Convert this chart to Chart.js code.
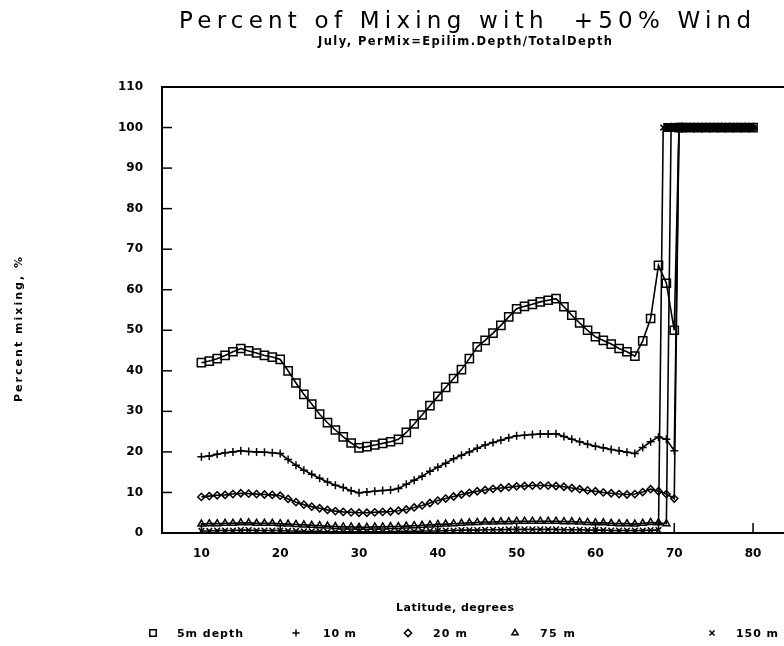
<!DOCTYPE html>
<html>
<head>
<meta charset="utf-8">
<title>Percent of Mixing with +50% Wind</title>
<script src="https://cdn.jsdelivr.net/npm/chart.js@4.4.1/dist/chart.umd.min.js"></script>
<style>
  body { margin: 0; background: #fff; }
  #wrap { width: 784px; height: 646px; position: relative; }
</style>
</head>
<body>
<div id="wrap"><canvas id="mixChart"></canvas></div>
<script>
// latitude of each lake run, degrees
const lats = [10, 11, 12, 13, 14, 15, 16, 17, 18, 19, 20, 21, 22, 23, 24, 25, 26, 27, 28, 29, 30,
    31, 32, 33, 34, 35, 36, 37, 38, 39, 40, 41, 42, 43, 44, 45, 46, 47, 48, 49, 50,
    51, 52, 53, 54, 55, 56, 57, 58, 59, 60, 61, 62, 63, 64, 65, 66, 67, 68, 69, 70];

// percent mixing for each lake depth (before the lake turns fully mixed)
const depth5 = [42.0, 42.4, 43.0, 43.8, 44.7, 45.5, 44.9, 44.4, 43.8, 43.4, 42.8,
    40.0, 37.0, 34.2, 31.8, 29.3, 27.2, 25.4, 23.7, 22.2, 21.0,
    21.3, 21.7, 22.1, 22.5, 23.1, 24.8, 26.9, 29.1, 31.4, 33.7,
    35.9, 38.1, 40.3, 43.0, 45.9, 47.5, 49.3, 51.2, 53.3, 55.3,
    55.9, 56.4, 57.0, 57.4, 57.8, 55.8, 53.7, 51.8, 50.0, 48.4,
    47.5, 46.6, 45.5, 44.7, 43.6, 47.4, 52.9, 66.0, 61.6, 50.0];
const depth10 = [18.8, 19.0, 19.4, 19.8, 20.0, 20.3, 20.1, 20.0, 19.9, 19.8, 19.6,
    18.1, 16.7, 15.5, 14.5, 13.5, 12.6, 11.8, 11.2, 10.4, 9.9,
    10.1, 10.3, 10.5, 10.6, 11.0, 12.0, 13.0, 14.0, 15.2, 16.2,
    17.2, 18.3, 19.2, 20.0, 20.9, 21.7, 22.3, 22.9, 23.5, 24.0,
    24.1, 24.3, 24.4, 24.4, 24.5, 23.8, 23.1, 22.5, 21.9, 21.4,
    21.0, 20.6, 20.3, 19.9, 19.6, 21.1, 22.5, 23.7, 23.1, 20.3];
const depth20 = [8.9, 9.1, 9.3, 9.4, 9.6, 9.8, 9.7, 9.6, 9.5, 9.4, 9.2,
    8.4, 7.6, 7.0, 6.5, 6.1, 5.7, 5.4, 5.2, 5.1, 5.0,
    5.0, 5.1, 5.2, 5.3, 5.5, 5.8, 6.3, 6.8, 7.4, 8.0,
    8.5, 9.0, 9.5, 9.9, 10.3, 10.6, 10.9, 11.1, 11.3, 11.5,
    11.6, 11.7, 11.7, 11.7, 11.6, 11.4, 11.1, 10.8, 10.5, 10.3,
    10.0, 9.8, 9.6, 9.5, 9.6, 10.1, 10.8, 10.3, 9.6, 8.5];
const depth75 = [2.2, 2.3, 2.3, 2.4, 2.4, 2.5, 2.5, 2.4, 2.4, 2.4, 2.3,
    2.2, 2.1, 2.0, 1.9, 1.8, 1.7, 1.6, 1.5, 1.5, 1.4,
    1.4, 1.5, 1.5, 1.6, 1.6, 1.7, 1.8, 1.9, 2.0, 2.1,
    2.2, 2.3, 2.4, 2.5, 2.6, 2.7, 2.7, 2.8, 2.8, 2.9,
    2.9, 2.9, 2.9, 2.9, 2.9, 2.8, 2.8, 2.7, 2.6, 2.5,
    2.5, 2.4, 2.3, 2.3, 2.2, 2.4, 2.6, 2.5, 2.3];
const depth150 = [0.5, 0.5, 0.6, 0.6, 0.6, 0.7, 0.7, 0.6, 0.6, 0.6, 0.6,
    0.5, 0.5, 0.4, 0.4, 0.4, 0.3, 0.3, 0.3, 0.3, 0.3,
    0.3, 0.3, 0.3, 0.3, 0.4, 0.4, 0.4, 0.5, 0.5, 0.5,
    0.6, 0.6, 0.7, 0.7, 0.7, 0.8, 0.8, 0.8, 0.9, 0.9,
    0.9, 0.9, 0.9, 0.9, 0.9, 0.8, 0.8, 0.8, 0.7, 0.7,
    0.7, 0.6, 0.6, 0.6, 0.6, 0.6, 0.7, 0.7];

// latitude where each depth jumps to full mixing, then the fully mixed runs
const jumpLats = [70.6, 70.6, 70.6, 69.6, 68.6];
const fullLats = [71, 72, 73, 74, 75, 76, 77, 78, 79, 80];
const fullMix = 100;

const seriesNames = ["5m depth", "10 m", "20 m", "75 m", "150 m"];
const seriesValues = [depth5, depth10, depth20, depth75, depth150];
const markers = ["rect", "cross", "rectRot", "triangle", "crossRot"];
const markerSizes = [5.8, 4, 3.6, 4, 4];

const xTicks = [10, 20, 30, 40, 50, 60, 70, 80];
const yTicks = [0, 10, 20, 30, 40, 50, 60, 70, 80, 90, 100, 110];

function buildPoints(values, jumpLat) {
    const pts = values.map((v, i) => ({ x: lats[i], y: v }));
    pts.push({ x: jumpLat, y: fullMix });
    fullLats.forEach(x => pts.push({ x: x, y: fullMix }));
    return pts;
}

const datasets = seriesNames.map((name, i) => ({
    label: name,
    data: buildPoints(seriesValues[i], jumpLats[i]),
    borderColor: "#000",
    borderWidth: 1.6,
    pointStyle: markers[i],
    pointRadius: markerSizes[i],
    pointBorderColor: "#000",
    pointBorderWidth: 1.5,
    pointBackgroundColor: "rgba(0,0,0,0)",
    tension: 0,
    segment: {
        // the fully mixed stretch is drawn as a heavy bar
        borderWidth: ctx => (ctx.p0.parsed.y >= fullMix && ctx.p1.parsed.y >= fullMix) ? 9 : 1.6
    }
}));

function spacedText(ctx, text, x0, x1, y) {
    ctx.letterSpacing = "0px";
    const w = ctx.measureText(text).width;
    const gap = (x1 - x0 - w) / (text.length - 1);
    ctx.letterSpacing = gap + "px";
    ctx.textAlign = "left";
    ctx.fillText(text, x0, y);
    ctx.letterSpacing = "0px";
}

// titles, inner tick marks, frame top and the legend row
const decorations = {
    id: "decorations",
    afterDraw(chart) {
        const ctx = chart.ctx;
        const area = chart.chartArea;
        const xs = chart.scales.x;
        const ys = chart.scales.y;
        const w = chart.width;
        ctx.save();
        ctx.strokeStyle = "#000";
        ctx.fillStyle = "#000";

        // frame top and the x axis run on to the page edge
        ctx.lineWidth = 2;
        ctx.beginPath();
        ctx.moveTo(area.left - 1, area.top);
        ctx.lineTo(w, area.top);
        ctx.moveTo(area.right - 1, area.bottom);
        ctx.lineTo(w, area.bottom);
        ctx.stroke();

        ctx.lineWidth = 1.5;
        yTicks.slice(1).forEach(v => {
            const y = ys.getPixelForValue(v);
            ctx.beginPath();
            ctx.moveTo(area.left, y);
            ctx.lineTo(area.left + 10, y);
            ctx.stroke();
        });
        xTicks.forEach(v => {
            const x = xs.getPixelForValue(v);
            ctx.beginPath();
            ctx.moveTo(x, area.bottom);
            ctx.lineTo(x, area.bottom - 10);
            ctx.stroke();
        });

        ctx.textBaseline = "alphabetic";
        ctx.font = '23px "DejaVu Sans"';
        spacedText(ctx, "Percent of Mixing with  +50% Wind", 179, 751, 28);
        ctx.font = 'bold 11.5px "DejaVu Sans"';
        spacedText(ctx, "July, PerMix=Epilim.Depth/TotalDepth", 318, 612, 45);
        ctx.font = 'bold 11px "DejaVu Sans"';
        spacedText(ctx, "Latitude, degrees", 396, 514, 611);

        ctx.save();
        ctx.translate(22, 402);
        ctx.rotate(-Math.PI / 2);
        spacedText(ctx, "Percent mixing, %", 0, 145, 0);
        ctx.restore();

        const legendY = 633;
        const legendMarks = [153, 296, 408, 515, 712];
        const legendText = [[177, 243], [323, 356], [433, 467], [540, 575], [736, 778]];
        ctx.font = 'bold 11px "DejaVu Sans"';
        seriesNames.forEach((name, i) => {
            ctx.fillStyle = "rgba(0,0,0,0)";
            Chart.helpers.drawPoint(ctx, {
                pointStyle: markers[i],
                radius: i === 0 ? 4.5 : 3.6,
                borderWidth: 1.6,
                rotation: 0
            }, legendMarks[i], legendY);
            ctx.fillStyle = "#000";
            spacedText(ctx, name, legendText[i][0], legendText[i][1], legendY + 4);
        });
        ctx.restore();
    }
};

new Chart(document.getElementById("mixChart"), {
    type: "line",
    data: { datasets: datasets },
    options: {
        responsive: true,
        maintainAspectRatio: false,
        animation: false,
        layout: { padding: { left: 112, right: 0, top: 87, bottom: 83 } },
        plugins: {
            legend: { display: false },
            title: { display: false },
            tooltip: { enabled: false }
        },
        scales: {
            x: {
                type: "linear",
                min: 5,
                max: 83,
                afterBuildTicks: scale => { scale.ticks = xTicks.map(v => ({ value: v })); },
                afterFit: scale => { scale.height = 30; },
                grid: { display: false, drawTicks: false },
                border: { display: true, color: "#000", width: 2 },
                ticks: {
                    padding: 14,
                    color: "#000",
                    font: { family: "DejaVu Sans", size: 12, weight: "bold" }
                }
            },
            y: {
                min: 0,
                max: 110,
                afterBuildTicks: scale => { scale.ticks = yTicks.map(v => ({ value: v })); },
                afterFit: scale => { scale.width = 50; },
                grid: { display: false, drawTicks: false },
                border: { display: true, color: "#000", width: 2 },
                ticks: {
                    padding: 19,
                    color: "#000",
                    font: { family: "DejaVu Sans", size: 12, weight: "bold" }
                }
            }
        }
    },
    plugins: [decorations]
});
</script>
</body>
</html>
